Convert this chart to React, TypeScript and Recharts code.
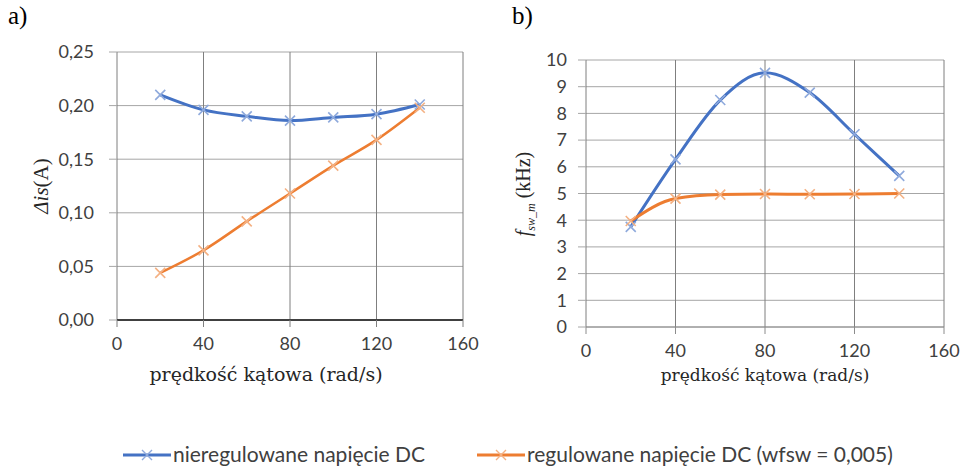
import React from 'react';
import {
  LineChart,
  Line,
  XAxis,
  YAxis,
  CartesianGrid,
  Label
} from 'recharts';

// prędkość kątowa (rad/s)
const speeds = [20, 40, 60, 80, 100, 120, 140];

// a) Δis (A)
const dIsUnregulated = [0.21, 0.196, 0.19, 0.186, 0.189, 0.192, 0.201];
const dIsRegulated = [0.044, 0.065, 0.092, 0.118, 0.144, 0.168, 0.198];

// b) f_sw_m (kHz)
const fswUnregulated = [3.75, 6.28, 8.5, 9.52, 8.78, 7.22, 5.66];
const fswRegulated = [3.97, 4.81, 4.96, 4.98, 4.97, 4.98, 5.0];

const xTicks = [0, 40, 80, 120, 160];
const yTicksA = [0, 0.05, 0.1, 0.15, 0.2, 0.25];
const yTicksB = [0, 1, 2, 3, 4, 5, 6, 7, 8, 9, 10];

const legendNames = ['nieregulowane napięcie DC', 'regulowane napięcie DC (wfsw = 0,005)'];

const BLUE = '#4472C4';
const ORANGE = '#ED7D31';
const BLUE_MARK = '#8faadc';
const ORANGE_MARK = '#f4b183';

const SANS = 'Lato, "Open Sans", sans-serif';
const SERIF = '"DejaVu Serif", "Liberation Serif", serif';
const TIMES = '"Liberation Serif", "Times New Roman", serif';

const dataA = speeds.map((x, i) => ({ x, u: dIsUnregulated[i], r: dIsRegulated[i] }));
const dataB = speeds.map((x, i) => ({ x, u: fswUnregulated[i], r: fswRegulated[i] }));

const cross = (color: string) => (props: any) => {
  const { cx, cy, index } = props;
  if (cx == null || cy == null) return <g key={index} />;
  const s = 5;
  return (
    <path
      key={index}
      d={`M${cx - s},${cy - s}L${cx + s},${cy + s}M${cx - s},${cy + s}L${cx + s},${cy - s}`}
      stroke={color}
      strokeWidth={1.6}
      fill="none"
    />
  );
};

const tickStyle = { fontSize: 18, fontFamily: SANS, fill: '#404040' };
const comma = (v: number) => v.toFixed(2).replace('.', ',');

const App: React.FC = () => {
  return (
    <div style={{ position: 'absolute', left: 0, top: 0, width: 970, height: 469, background: '#fff' }}>
      <div style={{ position: 'absolute', left: 8, top: 2, fontFamily: TIMES, fontSize: 25 }}>a)</div>
      <div style={{ position: 'absolute', left: 512, top: 2, fontFamily: TIMES, fontSize: 25 }}>b)</div>

      {/* wykres a */}
      <div style={{ position: 'absolute', left: 0, top: 0 }}>
        <LineChart width={480} height={400} data={dataA} margin={{ top: 52, right: 17, left: 57, bottom: 50 }}>
          <CartesianGrid horizontal vertical={false} stroke="#a6a6a6" />
          <CartesianGrid horizontal={false} vertical stroke="#7f7f7f" verticalValues={xTicks} />
          <XAxis
            dataKey="x"
            type="number"
            domain={[0, 160]}
            ticks={xTicks}
            tick={tickStyle}
            tickSize={7}
            tickMargin={10}
            height={30}
            axisLine={{ stroke: '#404040', strokeWidth: 2 }}
            tickLine={{ stroke: '#7f7f7f' }}
          >
            <Label
              value="prędkość kątowa (rad/s)"
              position="bottom"
              offset={18}
              dx={-24}
              style={{ fontFamily: SERIF, fontSize: 19, fill: '#262626' }}
            />
          </XAxis>
          <YAxis
            type="number"
            domain={[0, 0.25]}
            ticks={yTicksA}
            tickFormatter={comma}
            tick={tickStyle}
            width={60}
            tickSize={8}
            tickMargin={15}
            axisLine={false}
            tickLine={{ stroke: '#a6a6a6' }}
          >
            <Label
              content={() => (
                <text
                  x={0}
                  y={0}
                  transform="translate(48,186) rotate(-90)"
                  textAnchor="middle"
                  fontFamily={TIMES}
                  fontSize={21}
                  fill="#262626"
                >
                  <tspan fontStyle="italic">Δis</tspan>
                  <tspan>(A)</tspan>
                </text>
              )}
            />
          </YAxis>
          <Line
            type="monotone"
            dataKey="u"
            stroke={BLUE}
            strokeWidth={3}
            dot={cross(BLUE_MARK)}
            isAnimationActive={false}
          />
          <Line
            type="monotone"
            dataKey="r"
            stroke={ORANGE}
            strokeWidth={2.5}
            dot={cross(ORANGE_MARK)}
            isAnimationActive={false}
          />
        </LineChart>
      </div>

      {/* wykres b */}
      <div style={{ position: 'absolute', left: 490, top: 0 }}>
        <LineChart width={480} height={400} data={dataB} margin={{ top: 60, right: 26, left: 36, bottom: 43 }}>
          <CartesianGrid horizontal vertical={false} stroke="#a6a6a6" />
          <CartesianGrid horizontal={false} vertical stroke="#7f7f7f" verticalValues={xTicks} />
          <XAxis
            dataKey="x"
            type="number"
            domain={[0, 160]}
            ticks={xTicks}
            tick={tickStyle}
            tickSize={7}
            tickMargin={10}
            height={30}
            axisLine={{ stroke: '#8c8c8c' }}
            tickLine={{ stroke: '#8c8c8c' }}
          >
            <Label
              value="prędkość kątowa (rad/s)"
              position="bottom"
              offset={12}
              style={{ fontFamily: SERIF, fontSize: 17, fill: '#262626' }}
            />
          </XAxis>
          <YAxis
            type="number"
            domain={[0, 10]}
            ticks={yTicksB}
            tick={tickStyle}
            width={60}
            tickSize={8}
            tickMargin={11}
            axisLine={false}
            tickLine={{ stroke: '#a6a6a6' }}
          >
            <Label
              content={() => (
                <text
                  x={0}
                  y={0}
                  transform="translate(40,194) rotate(-90)"
                  textAnchor="middle"
                  fontFamily={TIMES}
                  fontSize={20}
                  fill="#262626"
                >
                  <tspan fontStyle="italic">f</tspan>
                  <tspan fontStyle="italic" fontSize={12} dy={5}>sw_m</tspan>
                  <tspan dy={-5}> (kHz)</tspan>
                </text>
              )}
            />
          </YAxis>
          <Line
            type="monotone"
            dataKey="u"
            stroke={BLUE}
            strokeWidth={3}
            dot={cross(BLUE_MARK)}
            isAnimationActive={false}
          />
          <Line
            type="monotone"
            dataKey="r"
            stroke={ORANGE}
            strokeWidth={3}
            dot={cross(ORANGE_MARK)}
            isAnimationActive={false}
          />
        </LineChart>
      </div>

      {/* legenda */}
      <svg style={{ position: 'absolute', left: 0, top: 438 }} width={970} height={31}>
        {[
          { x: 123, color: BLUE, mark: BLUE_MARK, name: legendNames[0] },
          { x: 477, color: ORANGE, mark: ORANGE_MARK, name: legendNames[1] }
        ].map(item => (
          <g key={item.name}>
            <line x1={item.x} x2={item.x + 48} y1={17} y2={17} stroke={item.color} strokeWidth={3} />
            <path
              d={`M${item.x + 19},${12}L${item.x + 29},${22}M${item.x + 19},${22}L${item.x + 29},${12}`}
              stroke={item.mark}
              strokeWidth={1.4}
            />
            <text x={item.x + 50} y={24} fontFamily={SANS} fontSize={21} fill="#404040">
              {item.name}
            </text>
          </g>
        ))}
      </svg>
    </div>
  );
};

export default App;
